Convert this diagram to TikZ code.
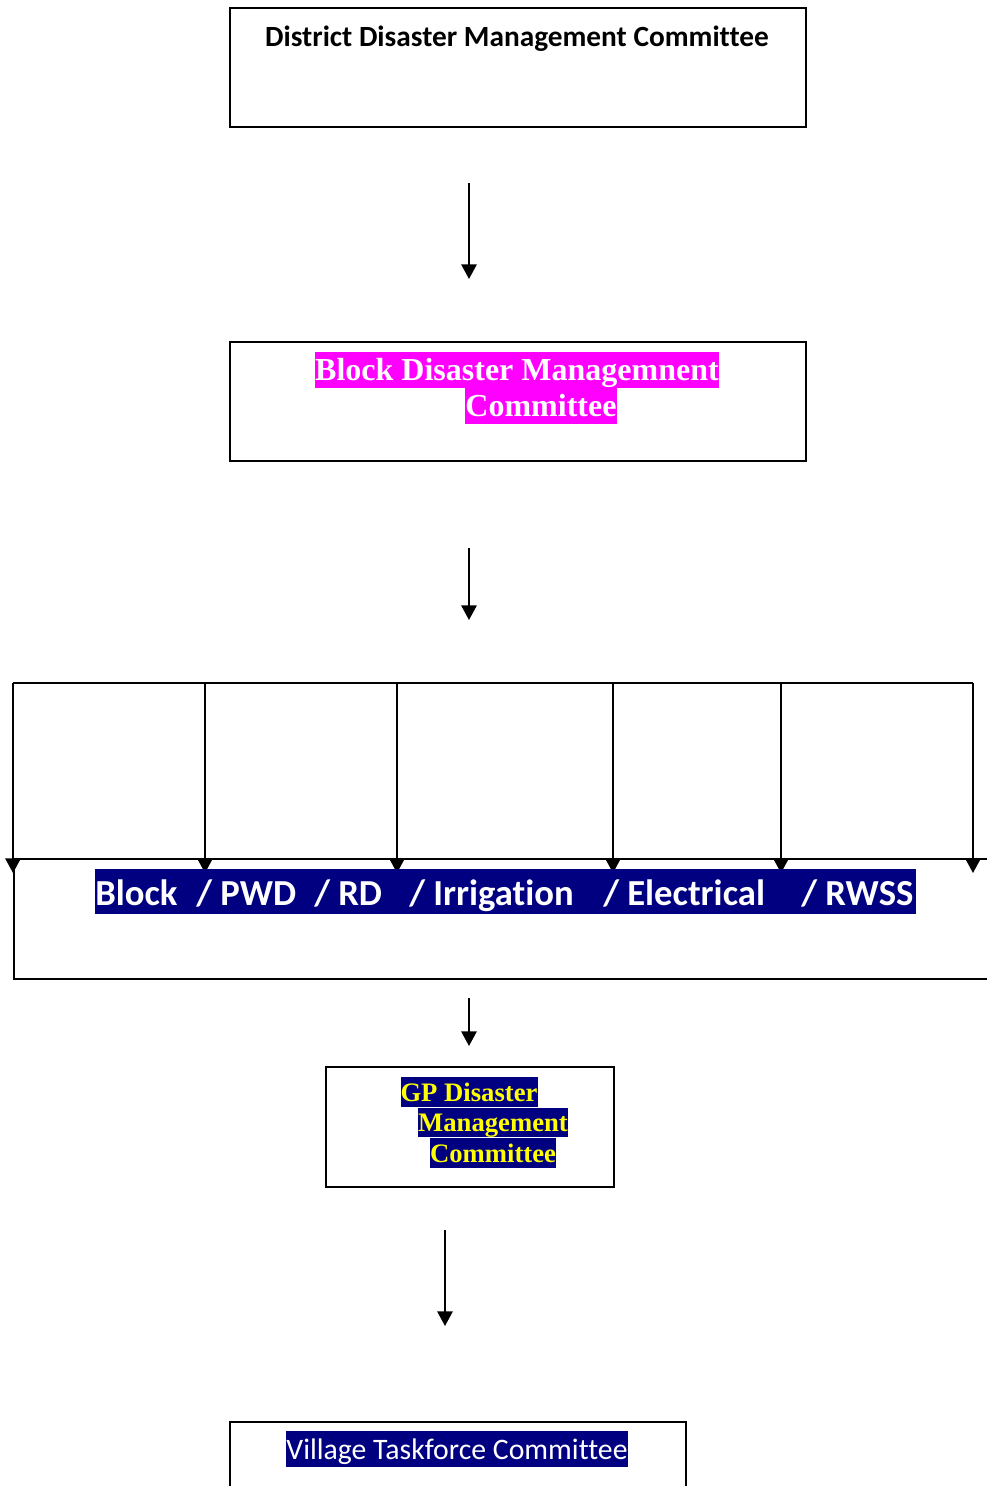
\documentclass[tikz,border=0pt]{standalone}
\usepackage{fontspec}
\setmainfont{Liberation Serif}
\newfontfamily\calibri[Ligatures=NoCommon]{Carlito}
\usetikzlibrary{arrows.meta}
\definecolor{hlnavy}{HTML}{000080}
\definecolor{hlmagenta}{HTML}{FF00FF}
\definecolor{hlyellow}{HTML}{FFFF00}
\begin{document}
\begin{tikzpicture}[x=0.75pt,y=-0.75pt,
  box/.style={draw, line width=1.5pt, inner sep=0pt, anchor=north west},
  flow/.style={line width=1.5pt, -{Triangle[width=11.5pt,length=11pt]}},
  serifhl/.style={inner sep=0pt, anchor=north, font=\bfseries\fontsize{24}{28}\selectfont,
    text height=21.4pt, text depth=5.2pt},
  gphl/.style={inner sep=0pt, anchor=north, fill=hlnavy, text=hlyellow,
    font=\bfseries\fontsize{20}{24}\selectfont, text height=17.8pt, text depth=4.3pt},
  dept/.style={anchor=base west, inner sep=0pt, text=white,
    font=\calibri\bfseries\fontsize{27.5}{33}\selectfont}]
\useasboundingbox (0,0) rectangle (987,1486);

% committee boxes
\node[box, minimum width=432pt, minimum height=89.25pt] (district) at (228.5,6.5) {};
\node[box, minimum width=432pt, minimum height=89.25pt] (blockdm) at (228.5,340.5) {};
\node[box, minimum width=740.25pt, minimum height=90pt] (depts) at (12.5,857.5) {};
\node[box, minimum width=216pt, minimum height=90pt] (gp) at (324.5,1065.5) {};
\node[box, minimum width=342pt, minimum height=59.25pt] (village) at (228.5,1420.5) {};

% district title
\node[anchor=base, inner sep=0pt, font=\calibri\bfseries\fontsize{22}{26}\selectfont]
  (districttext) at (517,46) {District Disaster Management Committee};

% block committee title
\node[serifhl, fill=hlmagenta, text=white] (blockl1) at (517,352) {Block Disaster Managemnent};
\node[serifhl, fill=hlmagenta, text=white] (blockl2) at (541,388) {Committee};

% vertical flow arrows
\coordinate (a1s) at (469,183); \coordinate (a1e) at (469,279);
\coordinate (a2s) at (469,548); \coordinate (a2e) at (469,620);
\coordinate (a3s) at (469,998); \coordinate (a3e) at (469,1046);
\coordinate (a4s) at (445,1230); \coordinate (a4e) at (445,1326);
\draw[flow] (a1s) -- (a1e);
\draw[flow] (a2s) -- (a2e);
\draw[flow] (a3s) -- (a3e);
\draw[flow] (a4s) -- (a4e);

% fork to the departments
\foreach \n/\xx in {1/13, 2/205, 3/397, 4/613, 5/781, 6/973} {
  \coordinate (f\n) at (\xx,683);
  \coordinate (t\n) at (\xx,873);
}
\draw[line width=1.5pt] (f1) -- (f6);
\foreach \n in {1,...,6} { \draw[flow] (f\n) -- (t\n); }

% departments line
\fill[hlnavy] (95,869) rectangle (916,914);
\node[dept] (dblock) at (95,905) {Block};
\node[dept] (dpwd) at (196,905) {/ PWD};
\node[dept] (drd) at (314,905) {/ RD};
\node[dept] (dirr) at (409,905) {/ Irrigation};
\node[dept] (delec) at (603,905) {/ Electrical};
\node[dept] (drwss) at (801,905) {/ RWSS};

% GP committee title
\node[gphl] (gpl1) at (469,1077) {GP Disaster};
\node[gphl] (gpl2) at (493,1107.5) {Management};
\node[gphl] (gpl3) at (493,1138) {Committee};

% village committee title
\node[inner sep=0pt, anchor=north, fill=hlnavy, text=white,
  font=\calibri\fontsize{22.3}{26}\selectfont, text height=20.9pt, text depth=5.9pt]
  (villagetext) at (457,1431) {Village Taskforce Committee};
\end{tikzpicture}
\end{document}
